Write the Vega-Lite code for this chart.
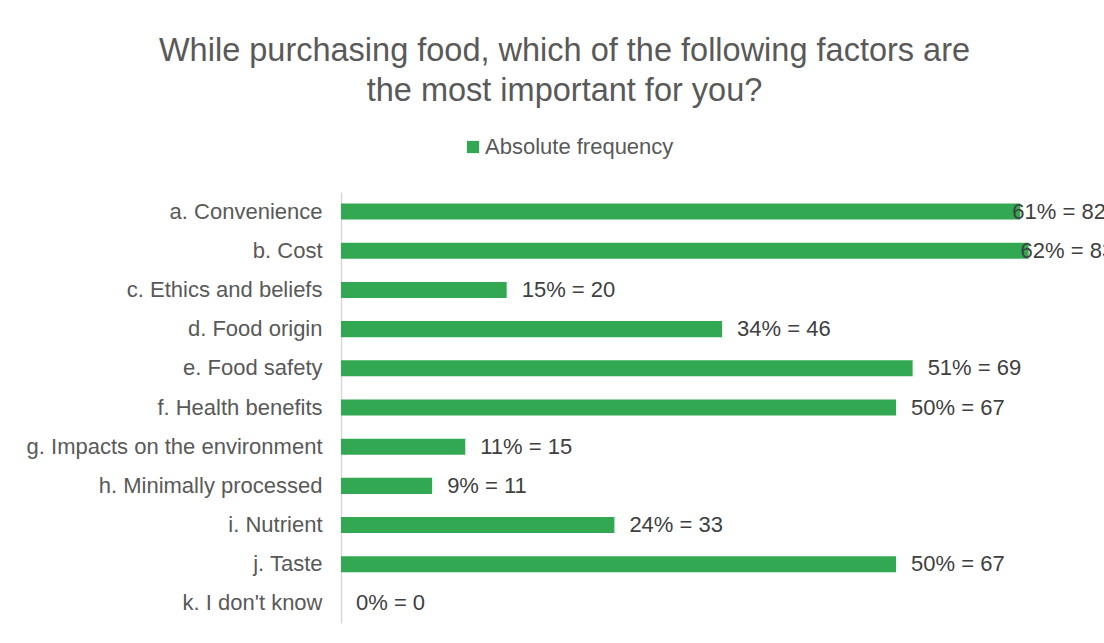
{
  "$schema": "https://vega.github.io/schema/vega-lite/v6.json",
  "autosize": "none",
  "width": 763,
  "height": 431,
  "padding": {"left": 341, "top": 192, "right": 0, "bottom": 20},
  "background": "white",
  "title": {
    "text": ["While purchasing food, which of the following factors are", "the most important for you?"],
    "font": "Liberation Sans",
    "fontSize": 32.5,
    "fontWeight": "normal",
    "color": "#595959",
    "anchor": "middle",
    "frame": "group",
    "dx": -158,
    "offset": 29,
    "lineHeight": 40
  },
  "data": {
    "values": [
      {"factor": "a. Convenience", "value": 82, "label": "61% = 82"},
      {"factor": "b. Cost", "value": 83, "label": "62% = 83"},
      {"factor": "c. Ethics and beliefs", "value": 20, "label": "15% = 20"},
      {"factor": "d. Food origin", "value": 46, "label": "34% = 46"},
      {"factor": "e. Food safety", "value": 69, "label": "51% = 69"},
      {"factor": "f. Health benefits", "value": 67, "label": "50% = 67"},
      {"factor": "g. Impacts on the environment", "value": 15, "label": "11% = 15"},
      {"factor": "h. Minimally processed", "value": 11, "label": "9% = 11"},
      {"factor": "i. Nutrient", "value": 33, "label": "24% = 33"},
      {"factor": "j. Taste", "value": 67, "label": "50% = 67"},
      {"factor": "k. I don't know", "value": 0, "label": "0% = 0"}
    ]
  },
  "encoding": {
    "y": {
      "field": "factor",
      "type": "nominal",
      "sort": null,
      "scale": {"paddingInner": 0.59, "paddingOuter": 0.295},
      "axis": {
        "title": null,
        "ticks": false,
        "domainColor": "#d9d9d9",
        "domainWidth": 1.5,
        "labelFont": "Liberation Sans",
        "labelFontSize": 22,
        "labelColor": "#595959",
        "labelPadding": 19,
        "labelLimit": 400
      }
    },
    "x": {
      "field": "value",
      "type": "quantitative",
      "scale": {"domain": [0, 92.1], "nice": false},
      "axis": null
    }
  },
  "layer": [
    {
      "mark": {"type": "bar", "clip": true},
      "encoding": {
        "color": {
          "datum": "Absolute frequency",
          "type": "nominal",
          "scale": {"range": ["#33a852"]},
          "legend": {
            "title": null,
            "orient": "none",
            "legendX": 121,
            "legendY": -56,
            "symbolType": "square",
            "symbolSize": 150,
            "labelFont": "Liberation Sans",
            "labelFontSize": 22,
            "labelColor": "#595959",
            "labelOffset": 1,
            "labelLimit": 400
          }
        }
      }
    },
    {
      "transform": [{"filter": "datum.value < 80"}],
      "mark": {"type": "text", "align": "left", "baseline": "middle", "dx": 15, "font": "Liberation Sans", "fontSize": 22, "color": "#404040"},
      "encoding": {"text": {"field": "label"}}
    },
    {
      "transform": [{"filter": "datum.value >= 80"}],
      "mark": {"type": "text", "align": "left", "baseline": "middle", "dx": -8, "font": "Liberation Sans", "fontSize": 22, "color": "#404040"},
      "encoding": {"text": {"field": "label"}}
    }
  ],
  "config": {"view": {"stroke": null}}
}
